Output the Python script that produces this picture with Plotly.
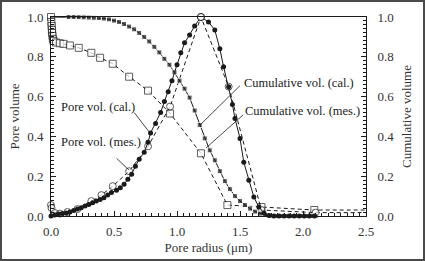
import plotly.graph_objects as go

# ---------------- data ----------------
# Cumulative vol. (cal.)  - solid line, filled squares
cum_cal_r = [0.00, 0.14, 0.18, 0.22, 0.26, 0.30, 0.34, 0.38, 0.42, 0.46, 0.50, 0.54, 0.58,
             0.62, 0.66, 0.70, 0.74, 0.78, 0.82, 0.86, 0.90, 0.94, 0.98, 1.02, 1.06, 1.10,
             1.14, 1.18, 1.22, 1.26, 1.30, 1.34, 1.38, 1.42, 1.46, 1.50, 1.54, 1.58, 1.62,
             1.66, 1.70, 1.74, 1.78, 1.82, 1.86, 1.90, 1.94, 1.98, 2.02, 2.06, 2.10]
cum_cal_v = [1.000, 1.000, 1.000, 0.999, 0.998, 0.997, 0.996, 0.995, 0.992, 0.988, 0.982, 0.975, 0.965,
             0.952, 0.938, 0.920, 0.900, 0.877, 0.850, 0.822, 0.790, 0.760, 0.722, 0.680, 0.640, 0.595,
             0.530, 0.457, 0.390, 0.330, 0.280, 0.225, 0.175, 0.135, 0.100, 0.075, 0.055, 0.037, 0.022,
             0.012, 0.005, 0.002, 0.000, 0.000, 0.000, 0.000, 0.000, 0.000, 0.000, 0.000, 0.000]

# Cumulative vol. (mes.)  - dashed line, open squares
cum_mes_r = [0.000, 0.003, 0.005, 0.007, 0.009, 0.012, 0.015, 0.020, 0.040, 0.070, 0.100, 0.150,
             0.220, 0.320, 0.390, 0.490, 0.620, 0.770, 0.945, 1.190, 1.400, 1.670, 2.090, 2.500]
cum_mes_v = [1.000, 0.975, 0.955, 0.935, 0.920, 0.905, 0.890, 0.880, 0.872, 0.868, 0.865, 0.857,
             0.845, 0.820, 0.795, 0.765, 0.700, 0.630, 0.515, 0.315, 0.055, 0.045, 0.030, 0.030]

# Pore vol. (cal.)  - solid line, filled circles
pore_cal_r = [0.00, 0.03, 0.06, 0.09, 0.12, 0.15, 0.18, 0.21, 0.24, 0.27, 0.30, 0.33, 0.36, 0.39,
              0.42, 0.45, 0.48, 0.52, 0.55, 0.58, 0.61, 0.64, 0.67, 0.70, 0.74, 0.77, 0.79, 0.83,
              0.87, 0.90, 0.93, 0.96, 1.00, 1.03, 1.06, 1.10, 1.14, 1.19, 1.25, 1.30, 1.34, 1.37,
              1.41, 1.44, 1.46, 1.50, 1.53, 1.57, 1.61, 1.65, 1.69, 1.73, 1.77, 1.81, 1.85, 1.89,
              1.93, 1.97, 2.01, 2.05, 2.09]
pore_cal_v = [0.000, 0.005, 0.010, 0.012, 0.015, 0.020, 0.028, 0.035, 0.042, 0.050, 0.058, 0.066, 0.075, 0.083,
              0.092, 0.105, 0.118, 0.130, 0.142, 0.160, 0.185, 0.210, 0.250, 0.285, 0.320, 0.370, 0.417, 0.465,
              0.520, 0.575, 0.625, 0.680, 0.760, 0.820, 0.870, 0.910, 0.955, 1.000, 0.975, 0.935, 0.840, 0.750,
              0.650, 0.560, 0.490, 0.390, 0.270, 0.180, 0.095, 0.045, 0.015, 0.003, 0.000, 0.000, 0.000, 0.000,
              0.000, 0.000, 0.000, 0.000, 0.000]

# Pore vol. (mes.)  - dashed line, open circles
pore_mes_r = [0.000, 0.004, 0.030, 0.070, 0.130, 0.210, 0.320, 0.400, 0.490, 0.620, 0.770, 0.945,
              1.190, 1.410, 1.670, 2.100, 2.500]
pore_mes_v = [0.055, 0.040, 0.015, 0.012, 0.020, 0.035, 0.075, 0.105, 0.150, 0.225, 0.350, 0.550,
              1.000, 0.650, 0.030, 0.017, 0.017]

x_ticks = [0.0, 0.5, 1.0, 1.5, 2.0, 2.5]
y_ticks = [0.0, 0.2, 0.4, 0.6, 0.8, 1.0]

labels = ["Pore vol. (cal.)", "Pore vol. (mes.)", "Cumulative vol. (cal.)", "Cumulative vol. (mes.)"]
label_pos = [(0.06, 0.55), (0.06, 0.37), (1.515, 0.67), (1.525, 0.53)]
leader_from = [(0.66, 0.52), (0.52, 0.29), (1.50, 0.655), (1.525, 0.508)]
leader_to = [(0.786, 0.417), (0.619, 0.231), (1.183, 0.457), (1.23, 0.342)]

FONT = "Liberation Serif, Times New Roman, serif"
INK = "#1a1a1a"

fig = go.Figure()

def sizes(n, s, last_hidden=False):
    arr = [s] * n
    if last_hidden:
        arr[-1] = 0
    return arr

fig.add_trace(go.Scatter(x=cum_mes_r, y=cum_mes_v, mode="lines+markers",
                         line=dict(color=INK, width=1, dash="4px,3px"),
                         marker=dict(symbol="square", size=sizes(len(cum_mes_r), 7, True),
                                     color="white", line=dict(width=1, color=INK)),
                         cliponaxis=False, showlegend=False))
fig.add_trace(go.Scatter(x=pore_mes_r, y=pore_mes_v, mode="lines+markers",
                         line=dict(color=INK, width=1, dash="4px,3px"),
                         marker=dict(symbol="circle", size=sizes(len(pore_mes_r), 7, True),
                                     color="white", line=dict(width=1, color=INK)),
                         cliponaxis=False, showlegend=False))
fig.add_trace(go.Scatter(x=cum_cal_r, y=cum_cal_v, mode="lines+markers",
                         line=dict(color=INK, width=1),
                         marker=dict(symbol="square", size=[0] + [5] * (len(cum_cal_r) - 1), color=INK),
                         cliponaxis=False, showlegend=False))
fig.add_trace(go.Scatter(x=pore_cal_r, y=pore_cal_v, mode="lines+markers",
                         line=dict(color=INK, width=1),
                         marker=dict(symbol="circle", size=5, color=INK),
                         cliponaxis=False, showlegend=False))
# redraw peak open circle on top
fig.add_trace(go.Scatter(x=[pore_mes_r[12]], y=[pore_mes_v[12]], mode="markers",
                         marker=dict(symbol="circle", size=7, color="white", line=dict(width=1, color=INK)),
                         cliponaxis=False, showlegend=False))
# dummy trace for right axis
fig.add_trace(go.Scatter(x=[0], y=[0], yaxis="y2", mode="markers", marker=dict(size=0, opacity=0),
                         showlegend=False, hoverinfo="skip"))

for txt, (lx, ly), (fx, fy), (tx, ty) in zip(labels, label_pos, leader_from, leader_to):
    fig.add_annotation(x=lx, y=ly, text=txt, showarrow=False,
                       font=dict(family=FONT, size=12.5, color=INK), xanchor="left", yanchor="middle")
    fig.add_shape(type="line", x0=fx, y0=fy, x1=tx, y1=ty, line=dict(color=INK, width=0.8))

W, H = 425, 261
L, R, T, B = 51, 59, 17, 45
pw, ph = W - L - R, H - T - B
fig.add_shape(type="rect", xref="paper", yref="paper",
              x0=(1 - L) / pw, x1=(W - 1 - L) / pw,
              y0=1 - (H - 1 - T) / ph, y1=1 + (T - 1) / ph,
              line=dict(color="#4a4a4a", width=2))

axis_font = dict(family=FONT, size=13, color="#333")
fig.update_layout(
    width=W, height=H, margin=dict(l=L, r=R, t=T, b=B, autoexpand=False),
    paper_bgcolor="white", plot_bgcolor="white",
    font=dict(family=FONT),
    xaxis=dict(range=[0, 2.5], tickvals=x_ticks, ticktext=[f"{v:.1f}" for v in x_ticks],
               automargin=False,
               ticks="inside", ticklen=5, tickcolor=INK, showline=True, linecolor=INK, linewidth=1,
               mirror=True, showgrid=False, zeroline=False, tickfont=axis_font, ticklabelstandoff=3,
               minor=dict(dtick=0.05, ticks="inside", ticklen=3, tickcolor=INK, showgrid=False),
               title=dict(text="Pore radius (μm)", font=axis_font, standoff=5)),
    yaxis=dict(range=[0, 1.0], tickvals=y_ticks, ticktext=[f"{v:.1f}" for v in y_ticks],
               automargin=False,
               ticks="inside", ticklen=5, tickcolor=INK, showline=True, linecolor=INK, linewidth=1,
               showgrid=False, zeroline=False, tickfont=axis_font, ticklabelstandoff=4,
               minor=dict(dtick=0.02, ticks="inside", ticklen=3, tickcolor=INK, showgrid=False),
               title=dict(text="Pore volume", font=axis_font, standoff=4)),
    yaxis2=dict(range=[0, 1.0], tickvals=y_ticks, ticktext=[f"{v:.1f}" for v in y_ticks],
                overlaying="y", side="right", automargin=False,
                ticks="inside", ticklen=5, tickcolor=INK, showline=True, linecolor=INK, linewidth=1,
                showgrid=False, zeroline=False, tickfont=axis_font, ticklabelstandoff=8,
                minor=dict(dtick=0.02, ticks="inside", ticklen=3, tickcolor=INK, showgrid=False),
                title=dict(text="Cumulative volume", font=axis_font, standoff=8)),
)

fig.write_html("out.html")
